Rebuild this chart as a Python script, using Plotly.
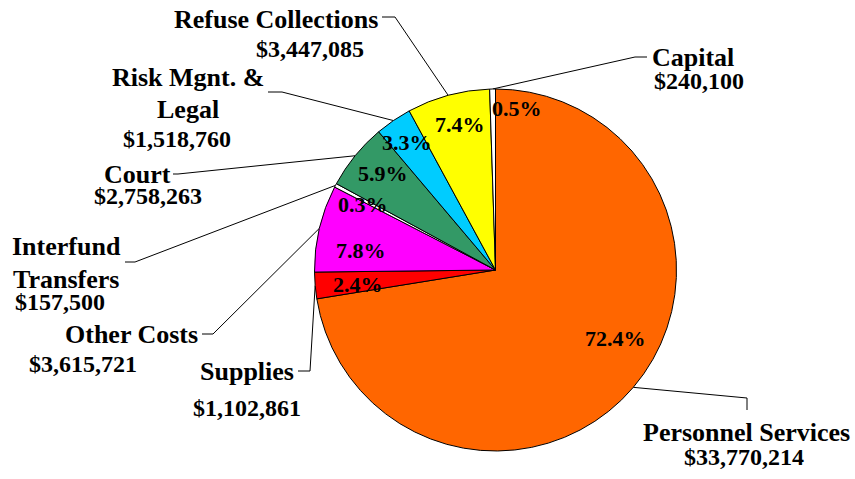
import math
import plotly.graph_objects as go

# ---------------- data ----------------
categories = ["Personnel Services", "Supplies", "Other Costs", "Interfund Transfers",
              "Court", "Risk Mgnt. & Legal", "Refuse Collections", "Capital"]
values = [33770214, 1102861, 3615721, 157500, 2758263, 1518760, 3447085, 240100]
pct_labels = ["72.4%", "2.4%", "7.8%", "0.3%", "5.9%", "3.3%", "7.4%", "0.5%"]
name_lines = [
    ["Personnel Services"],
    ["Supplies"],
    ["Other Costs"],
    ["Interfund", "Transfers"],
    ["Court"],
    ["Risk Mgnt. &", "Legal"],
    ["Refuse Collections"],
    ["Capital"],
]
amount_labels = ["$33,770,214", "$1,102,861", "$3,615,721", "$157,500",
                 "$2,758,263", "$1,518,760", "$3,447,085", "$240,100"]

# ---------------- styles / layout ----------------
colors = ["#FF6600", "#FF0000", "#FF00FF", "#FFFFFF", "#339966", "#00CCFF", "#FFFF00", "#FFFFFF"]
W, H = 855, 479
CX, CY, R = 495.5, 270, 181
FONT = "Liberation Serif, Times New Roman, Times, serif"
NAME_SIZE = 26
AMT_SIZE = 24
PCT_SIZE = 22

# text line positions (pixel centres): name lines, then amount line
name_pos = [
    [(746, 432)],
    [(247, 371)],
    [(131, 334)],
    [(66, 246), (66, 279)],
    [(137, 174)],
    [(188, 77), (188, 109)],
    [(276, 19)],
    [(693, 57)],
]
amt_pos = [(744, 457), (247, 408), (83, 364), (60, 302), (148, 196),
           (177, 139), (310, 49), (699, 81)]
# leader line: start point near text, elbow point (end at slice edge computed)
leader = [
    [(747, 410), (747, 398)],
    [(298, 371), (310, 371)],
    [(202, 334), (213, 334)],
    [(125, 262), (135, 262)],
    [(173, 174), (178, 174)],
    [(268, 92), (282, 92)],
    [(382, 17), (395, 17)],
    [(647, 57), (635, 57)],
]
pct_r = 0.76
pct_nudge = [(15, -21), (0, 3), (-1, 12), (-11, -1), (-6, -10), (-11, -14), (0, -13), (24, -24)]

total = sum(values)
fig = go.Figure()

fig.add_trace(go.Pie(
    labels=categories, values=values, sort=False, direction="clockwise", rotation=0,
    marker=dict(colors=colors, line=dict(color="black", width=1)),
    textinfo="none", hoverinfo="label+value+percent", showlegend=False,
    domain=dict(x=[(CX - R) / W, (CX + R) / W], y=[1 - (CY + R) / H, 1 - (CY - R) / H]),
))


def txt_ann(text, x, y, size):
    return dict(x=x, y=y, xref="x", yref="y", showarrow=False,
                text="<b>%s</b>" % text.replace("&", "&amp;"),
                font=dict(family=FONT, size=size, color="black"))


annotations = []
cum = 0
for i, v in enumerate(values):
    frac = v / total
    mid = (cum + frac / 2) * 2 * math.pi
    cum += frac
    sx, sy = math.sin(mid), -math.cos(mid)
    ex, ey = CX + R * sx, CY + R * sy
    (x0, y0), (x1, y1) = leader[i]
    fig.add_trace(go.Scatter(x=[x0, x1, ex], y=[y0, y1, ey], mode="lines",
                             line=dict(color="black", width=1), hoverinfo="skip",
                             showlegend=False))
    px = CX + pct_r * R * sx + pct_nudge[i][0]
    py = CY + pct_r * R * sy + pct_nudge[i][1]
    annotations.append(txt_ann(pct_labels[i], px, py, PCT_SIZE))
    for t, (lx, ly) in zip(name_lines[i], name_pos[i]):
        annotations.append(txt_ann(t, lx, ly, NAME_SIZE))
    annotations.append(txt_ann(amount_labels[i], amt_pos[i][0], amt_pos[i][1], AMT_SIZE))

fig.update_layout(
    width=W, height=H, margin=dict(l=0, r=0, t=0, b=0),
    paper_bgcolor="white", plot_bgcolor="rgba(0,0,0,0)",
    xaxis=dict(range=[0, W], visible=False, fixedrange=True),
    yaxis=dict(range=[H, 0], visible=False, fixedrange=True),
    annotations=annotations,
    font=dict(family=FONT),
)

fig.write_html("out.html", post_script="document.body.style.margin='0';",
               config={"displayModeBar": False})
